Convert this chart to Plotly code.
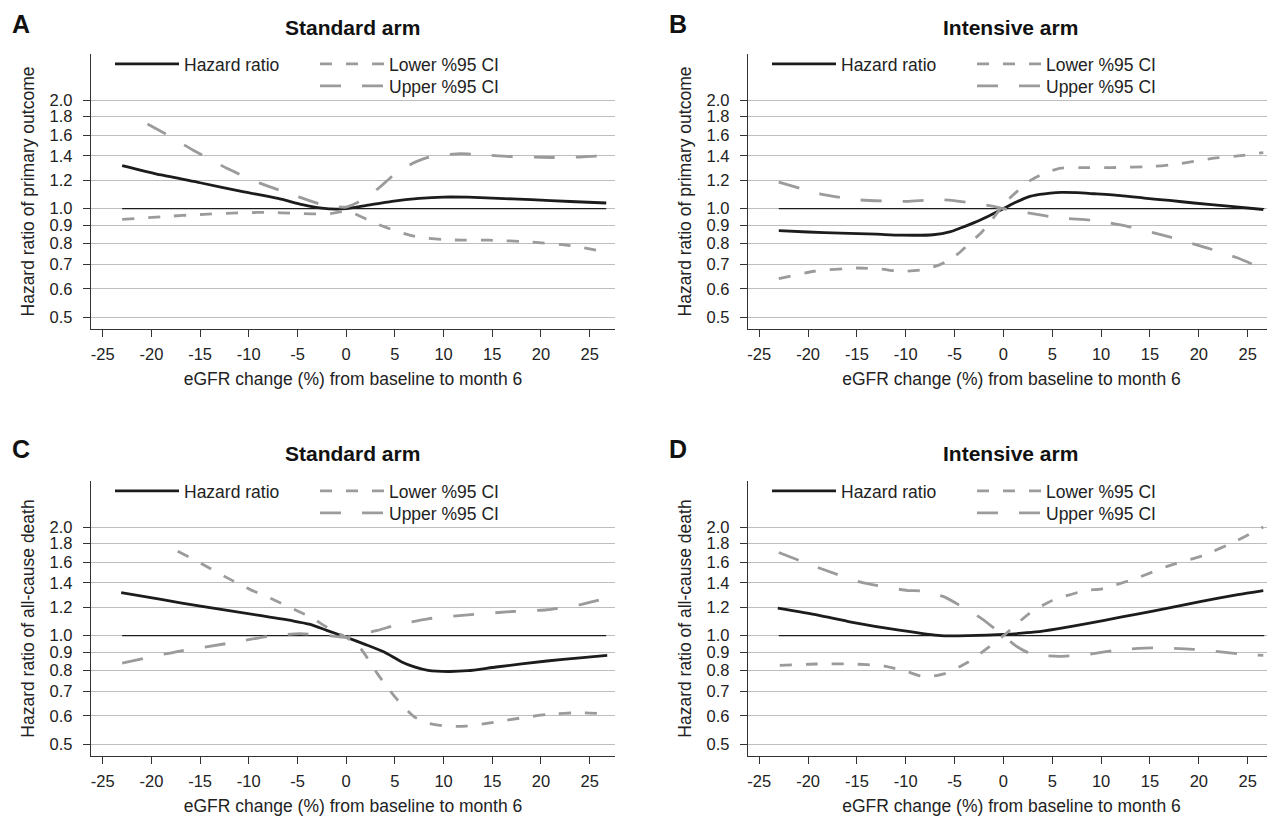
import math
import plotly.graph_objects as go

# ---------------- data ----------------
x_tick_vals = [-25, -20, -15, -10, -5, 0, 5, 10, 15, 20, 25]
x_tick_labels = ["-25", "-20", "-15", "-10", "-5", "0", "5", "10", "15", "20", "25"]
y_tick_vals = [0.5, 0.6, 0.7, 0.8, 0.9, 1.0, 1.2, 1.4, 1.6, 1.8, 2.0]
y_tick_labels = ["0.5", "0.6", "0.7", "0.8", "0.9", "1.0", "1.2", "1.4", "1.6", "1.8", "2.0"]

panel_letters = ["A", "B", "C", "D"]
panel_titles = ["Standard arm", "Intensive arm", "Standard arm", "Intensive arm"]
y_titles = ["Hazard ratio of primary outcome", "Hazard ratio of primary outcome",
            "Hazard ratio of all-cause death", "Hazard ratio of all-cause death"]
x_title = "eGFR change (%) from baseline to month 6"
series_names = ["Hazard ratio", "Lower %95 CI", "Upper %95 CI"]

ref_x = [-23, 26.7]
ref_y = [1.0, 1.0]

# Panel A: primary outcome, standard arm
a_hr_x = [-23, -19, -15, -10.5, -7, -4.5, -2.5, -1, 0, 2, 4.7, 7.5, 10, 12.5, 15, 19, 23, 26.7]
a_hr_y = [1.317, 1.24, 1.18, 1.114, 1.068, 1.026, 1.003, 0.997, 1.0, 1.02, 1.048, 1.068, 1.077, 1.076, 1.07, 1.059, 1.047, 1.037]
a_lo_x = [-23, -19, -14.6, -10.2, -8, -5.4, -3, -1.5, 0, 1, 2.2, 3.5, 4.7, 6.5, 8, 10, 12, 14.7, 18.9, 23, 26.6]
a_lo_y = [0.934, 0.95, 0.965, 0.975, 0.977, 0.971, 0.967, 0.97, 0.985, 0.965, 0.932, 0.9, 0.875, 0.845, 0.83, 0.821, 0.818, 0.818, 0.809, 0.79, 0.76]
a_up_x = [-20.4, -18.6, -15.7, -12.2, -8.8, -5.4, -2.7, -1.3, 0, 1, 2.2, 3.5, 4.7, 6, 7.2, 8.5, 10, 11.8, 14, 16.8, 21, 24, 26.6]
a_up_y = [1.717, 1.615, 1.452, 1.292, 1.175, 1.091, 1.03, 1.015, 1.01, 1.035, 1.08, 1.15, 1.228, 1.3, 1.35, 1.39, 1.41, 1.42, 1.41, 1.395, 1.386, 1.39, 1.403]

# Panel B: primary outcome, intensive arm
b_hr_x = [-23, -20, -16.7, -13, -10.6, -7.2, -5.4, -4.4, -3, -1.5, 0, 1.2, 2.5, 3.7, 4.8, 5.9, 7.5, 9.3, 12, 14.4, 17, 19.5, 23, 26.6]
b_hr_y = [0.869, 0.862, 0.856, 0.85, 0.845, 0.847, 0.864, 0.884, 0.915, 0.955, 1.0, 1.04, 1.077, 1.095, 1.105, 1.11, 1.108, 1.10, 1.087, 1.07, 1.054, 1.037, 1.017, 0.995]
b_lo_x = [-23, -19.4, -15, -12.5, -10.6, -8.2, -6.5, -5.4, -4.4, -3.3, -2.3, -1.2, -0.3, 0.5, 1.4, 2.8, 4.2, 5.9, 8, 11, 15.4, 17.8, 21.2, 24, 26.6]
b_lo_y = [0.64, 0.671, 0.685, 0.68, 0.671, 0.678, 0.70, 0.725, 0.76, 0.81, 0.856, 0.93, 1.0, 1.06, 1.117, 1.2, 1.255, 1.296, 1.30, 1.30, 1.31, 1.33, 1.376, 1.40, 1.43]
b_up_x = [-23, -18.8, -15, -12, -9.9, -6.5, -3.6, -1, 0, 2.5, 5.9, 9.3, 12.7, 16.8, 20.9, 24, 26.2]
b_up_y = [1.185, 1.10, 1.059, 1.05, 1.048, 1.059, 1.041, 1.015, 1.0, 0.973, 0.942, 0.928, 0.894, 0.838, 0.778, 0.73, 0.688]

# Panel C: all-cause death, standard arm
c_hr_x = [-23.1, -19, -14.8, -8.9, -5.5, -3.7, -2, 0, 2, 3.9, 5.7, 7, 8.4, 10.5, 12.5, 15.4, 20.6, 24, 26.8]
c_hr_y = [1.317, 1.26, 1.205, 1.138, 1.10, 1.075, 1.035, 0.99, 0.945, 0.901, 0.846, 0.82, 0.802, 0.796, 0.80, 0.819, 0.851, 0.868, 0.882]
c_lo_x = [-17.3, -14.8, -12.5, -10, -7.5, -5.1, -3.5, -2.3, -1, 0, 1.5, 3.2, 5, 7, 8.5, 10.2, 12.3, 15.4, 18, 20.6, 24.1, 26.7]
c_lo_y = [1.714, 1.58, 1.46, 1.348, 1.26, 1.175, 1.12, 1.068, 1.02, 0.99, 0.92, 0.785, 0.677, 0.596, 0.572, 0.562, 0.562, 0.577, 0.592, 0.605, 0.612, 0.607]
c_up_x = [-23, -17.6, -12.4, -7.9, -4.8, -2, 0, 1.5, 3.2, 5, 8.4, 11.9, 17.1, 20.6, 24.1, 26.7]
c_up_y = [0.84, 0.901, 0.95, 0.996, 1.013, 1.002, 0.99, 1.01, 1.034, 1.068, 1.114, 1.138, 1.167, 1.18, 1.22, 1.27]

# Panel D: all-cause death, intensive arm
d_hr_x = [-23.1, -19, -15.6, -10.5, -6.4, -3.6, 0, 3.3, 5.5, 8.4, 12, 15.3, 20.4, 24, 26.6]
d_hr_y = [1.192, 1.14, 1.091, 1.034, 1.0, 1.0, 1.008, 1.024, 1.045, 1.079, 1.125, 1.17, 1.247, 1.30, 1.334]
d_lo_x = [-22.9, -19.1, -15.6, -12.2, -9.8, -8.1, -6, -3.6, -1.5, 0, 2.6, 5, 8.4, 10.1, 13.6, 17, 20.4, 23.9, 26.6]
d_lo_y = [0.828, 0.835, 0.835, 0.824, 0.794, 0.769, 0.785, 0.846, 0.93, 1.0, 1.15, 1.252, 1.334, 1.348, 1.443, 1.564, 1.667, 1.833, 2.0]
d_up_x = [-23, -19.1, -14.6, -9.8, -8.4, -6, -4.3, -2.2, 0, 1.2, 2.6, 4, 5.7, 8.4, 11.9, 15.3, 19.4, 24.7, 26.6]
d_up_y = [1.70, 1.548, 1.407, 1.334, 1.33, 1.279, 1.205, 1.114, 1.0, 0.94, 0.896, 0.882, 0.877, 0.886, 0.915, 0.925, 0.917, 0.888, 0.882]

panels = [
    (a_hr_x, a_hr_y, a_lo_x, a_lo_y, a_up_x, a_up_y),
    (b_hr_x, b_hr_y, b_lo_x, b_lo_y, b_up_x, b_up_y),
    (c_hr_x, c_hr_y, c_lo_x, c_lo_y, c_up_x, c_up_y),
    (d_hr_x, d_hr_y, d_lo_x, d_lo_y, d_up_x, d_up_y),
]

# ---------------- layout geometry (page pixels) ----------------
PAGE_W, PAGE_H = 1275, 820
OFF = 8                      # default body margin of the html page
W, H = PAGE_W - OFF, PAGE_H - OFF
col_px = [(91, 615), (748, 1275)]
row_px = [(54, 329), (481, 756)]
x_ranges = [[-26.2, 27.6], [-26.15, 27.8]]
y_range = [-0.3332, 0.4285]

def px(p):
    return (p - OFF) / W

def py(p):
    return 1 - (p - OFF) / H

FONT = "Liberation Sans, Arial, Helvetica, sans-serif"
TXT = "#222222"
GRAY = "#9b9b9b"
BLACK = "#1c1c1c"
GRID = "#bdbdbd"
AXIS = "#333333"

fig = go.Figure()
layout = dict(
    width=W, height=H, autosize=False,
    margin=dict(l=0, r=0, t=0, b=0, pad=0, autoexpand=False),
    paper_bgcolor="white", plot_bgcolor="white",
    font=dict(family=FONT, size=17, color=TXT),
    annotations=[],
)

for i in range(4):
    r, c = divmod(i, 2)
    n = "" if i == 0 else str(i + 1)
    xa, ya = "x" + n, "y" + n
    hrx, hry, lox, loy, upx, upy = panels[i]
    k = 3 * i
    lg_hr = "legend" if k == 0 else "legend" + str(k + 1)
    lg_lo = "legend" + str(k + 2)
    lg_up = "legend" + str(k + 3)

    fig.add_trace(go.Scatter(x=ref_x, y=ref_y, xaxis=xa, yaxis=ya, mode="lines",
                             line=dict(color=BLACK, width=1.3), showlegend=False,
                             hoverinfo="skip"))
    fig.add_trace(go.Scatter(x=hrx, y=hry, xaxis=xa, yaxis=ya, mode="lines",
                             name=series_names[0], legend=lg_hr,
                             line=dict(color=BLACK, width=2.8, shape="spline", smoothing=0.6)))
    fig.add_trace(go.Scatter(x=lox, y=loy, xaxis=xa, yaxis=ya, mode="lines",
                             name=series_names[1], legend=lg_lo,
                             line=dict(color=GRAY, width=2.8, dash="12px,14px", shape="spline", smoothing=0.6)))
    fig.add_trace(go.Scatter(x=upx, y=upy, xaxis=xa, yaxis=ya, mode="lines",
                             name=series_names[2], legend=lg_up,
                             line=dict(color=GRAY, width=2.8, dash="21px,21px", shape="spline", smoothing=0.6)))

    x0, x1 = col_px[c]
    y0, y1 = row_px[r]
    axis_common = dict(showline=True, linecolor=AXIS, linewidth=1.4, ticks="outside",
                       ticklen=7, tickwidth=1.3, tickcolor=AXIS, zeroline=False,
                       automargin=False, tickfont=dict(size=16.5, color=TXT))
    layout["xaxis" + n] = dict(
        domain=[px(x0), px(x1)], anchor=ya, range=x_ranges[c],
        tickvals=x_tick_vals, ticktext=x_tick_labels, showgrid=False,
        ticklabelstandoff=3,
        title=dict(text=x_title, font=dict(size=17.5, color=TXT), standoff=10),
        **axis_common)
    layout["yaxis" + n] = dict(
        domain=[py(y1), py(y0)], anchor=xa, type="log", range=y_range,
        tickvals=y_tick_vals, ticktext=y_tick_labels, showgrid=True,
        gridcolor=GRID, gridwidth=1, ticklabelstandoff=7,
        title=dict(text=y_titles[i], font=dict(size=17.5, color=TXT), standoff=10),
        **axis_common)

    leg_common = dict(bgcolor="rgba(0,0,0,0)", borderwidth=0, font=dict(size=17.5, color=TXT),
                      xanchor="left", yanchor="top", itemwidth=64, tracegroupgap=0,
                      orientation="v")
    layout[lg_hr] = dict(x=px(x0 + 19), y=py(y0 - 8), **leg_common)
    layout[lg_lo] = dict(x=px(x0 + 224), y=py(y0 - 8), **leg_common)
    layout[lg_up] = dict(x=px(x0 + 224), y=py(y0 + 14), **leg_common)

    # panel letter and title
    cx = (x0 + x1) / 2
    layout["annotations"].append(dict(
        text="<b>" + panel_letters[i] + "</b>", xref="paper", yref="paper",
        x=px(21 + c * 657), y=py(8 + r * 425), xanchor="center", yanchor="top",
        showarrow=False, font=dict(size=25, color="#111111")))
    layout["annotations"].append(dict(
        text="<b>" + panel_titles[i] + "</b>", xref="paper", yref="paper",
        x=px(cx - 1), y=py(28 + r * 425), xanchor="center", yanchor="middle",
        showarrow=False, font=dict(size=21, color="#111111")))

fig.update_layout(**layout)
fig.write_html("out.html")
